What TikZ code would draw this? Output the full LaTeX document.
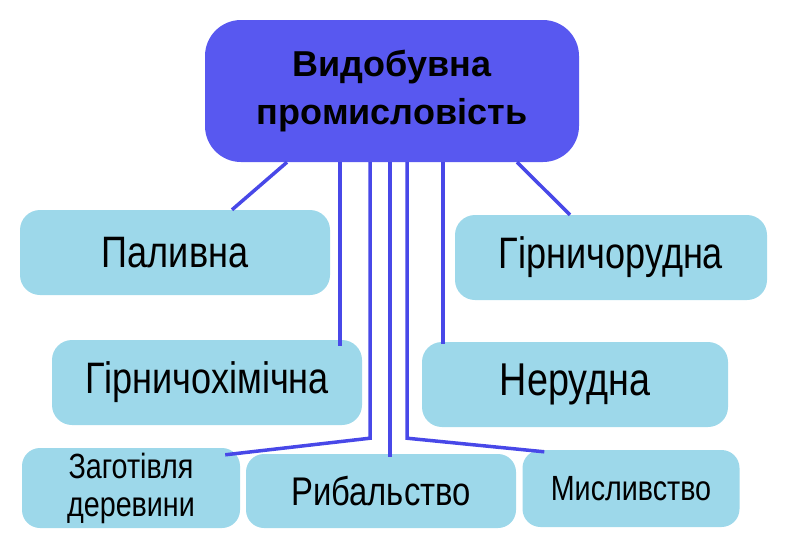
\documentclass[tikz,border=0pt]{standalone}
\usepackage{fontspec}
\setmainfont{Liberation Sans}
\newfontfamily\narrowfont[FakeStretch=0.82]{Liberation Sans}
\usetikzlibrary{positioning}

\definecolor{headblue}{RGB}{88,88,240}
\definecolor{boxcyan}{RGB}{157,216,234}
\definecolor{linkblue}{RGB}{72,72,232}

\begin{document}
\begin{tikzpicture}[x=1pt, y=-1pt,
    headbox/.style={fill=headblue, rounded corners=36pt, minimum width=374pt,
      minimum height=142pt, align=center, font=\bfseries\fontsize{36}{48}\selectfont},
    branch/.style={fill=boxcyan, rounded corners=20pt, minimum width=310pt,
      minimum height=85pt, font=\narrowfont\fontsize{44}{48}\selectfont},
    leaf/.style={fill=boxcyan, rounded corners=18pt, align=center,
      font=\narrowfont\fontsize{35}{38}\selectfont},
    link/.style={draw=linkblue, line width=3.5pt}]

  \useasboundingbox (0,0) rectangle (788,560);

  % main node
  \node[headbox] (vid) at (392,91) {Видобувна\\промисловість};

  % branches, two rows
  \node[branch] (paliv)    at (175,252.5) {Паливна};
  \node[branch, minimum width=312pt] (girnrud) at (611,257.5) {Гірничорудна};
  \node[branch] (girnkhim) at (207,382.5) {Гірничохімічна};
  \node[branch, minimum width=306pt,
    font=\narrowfont\fontsize{46}{48}\selectfont] (nerud) at (575,384.5) {Нерудна};

  % bottom row
  \node[leaf, minimum width=218pt, minimum height=80pt] (zagot) at (131,488)
    {Заготівля\\деревини};
  \node[leaf, minimum width=270pt, minimum height=74pt,
    font=\narrowfont\fontsize{40}{42}\selectfont] (ryb) at (381,491) {Рибальство};
  \node[leaf, minimum width=217pt, minimum height=77pt] (mysl) at (631,488.5)
    {Мисливство};

  % connectors
  \draw[link] ([xshift=-105pt]vid.south) -- ([xshift=57pt]paliv.north);
  \draw[link] ([xshift=125pt]vid.south) -- ([xshift=-41pt]girnrud.north);
  \draw[link] ([xshift=-52pt]vid.south) -- ([xshift=-52pt,yshift=-6pt]vid.south |- girnkhim.north);
  \draw[link] ([xshift=51pt]vid.south) -- ([xshift=51pt,yshift=-2pt]vid.south |- nerud.north);
  \draw[link] ([xshift=-22pt]vid.south) -- ++(0,276)
    -- ([xshift=-15pt,yshift=-7pt]zagot.north east);
  \draw[link] ([xshift=-2pt]vid.south) -- ([xshift=-2pt,yshift=-3pt]vid.south |- ryb.north);
  \draw[link] ([xshift=15pt]vid.south) -- ++(0,276)
    -- ([xshift=22pt,yshift=-2pt]mysl.north west);

\end{tikzpicture}
\end{document}
